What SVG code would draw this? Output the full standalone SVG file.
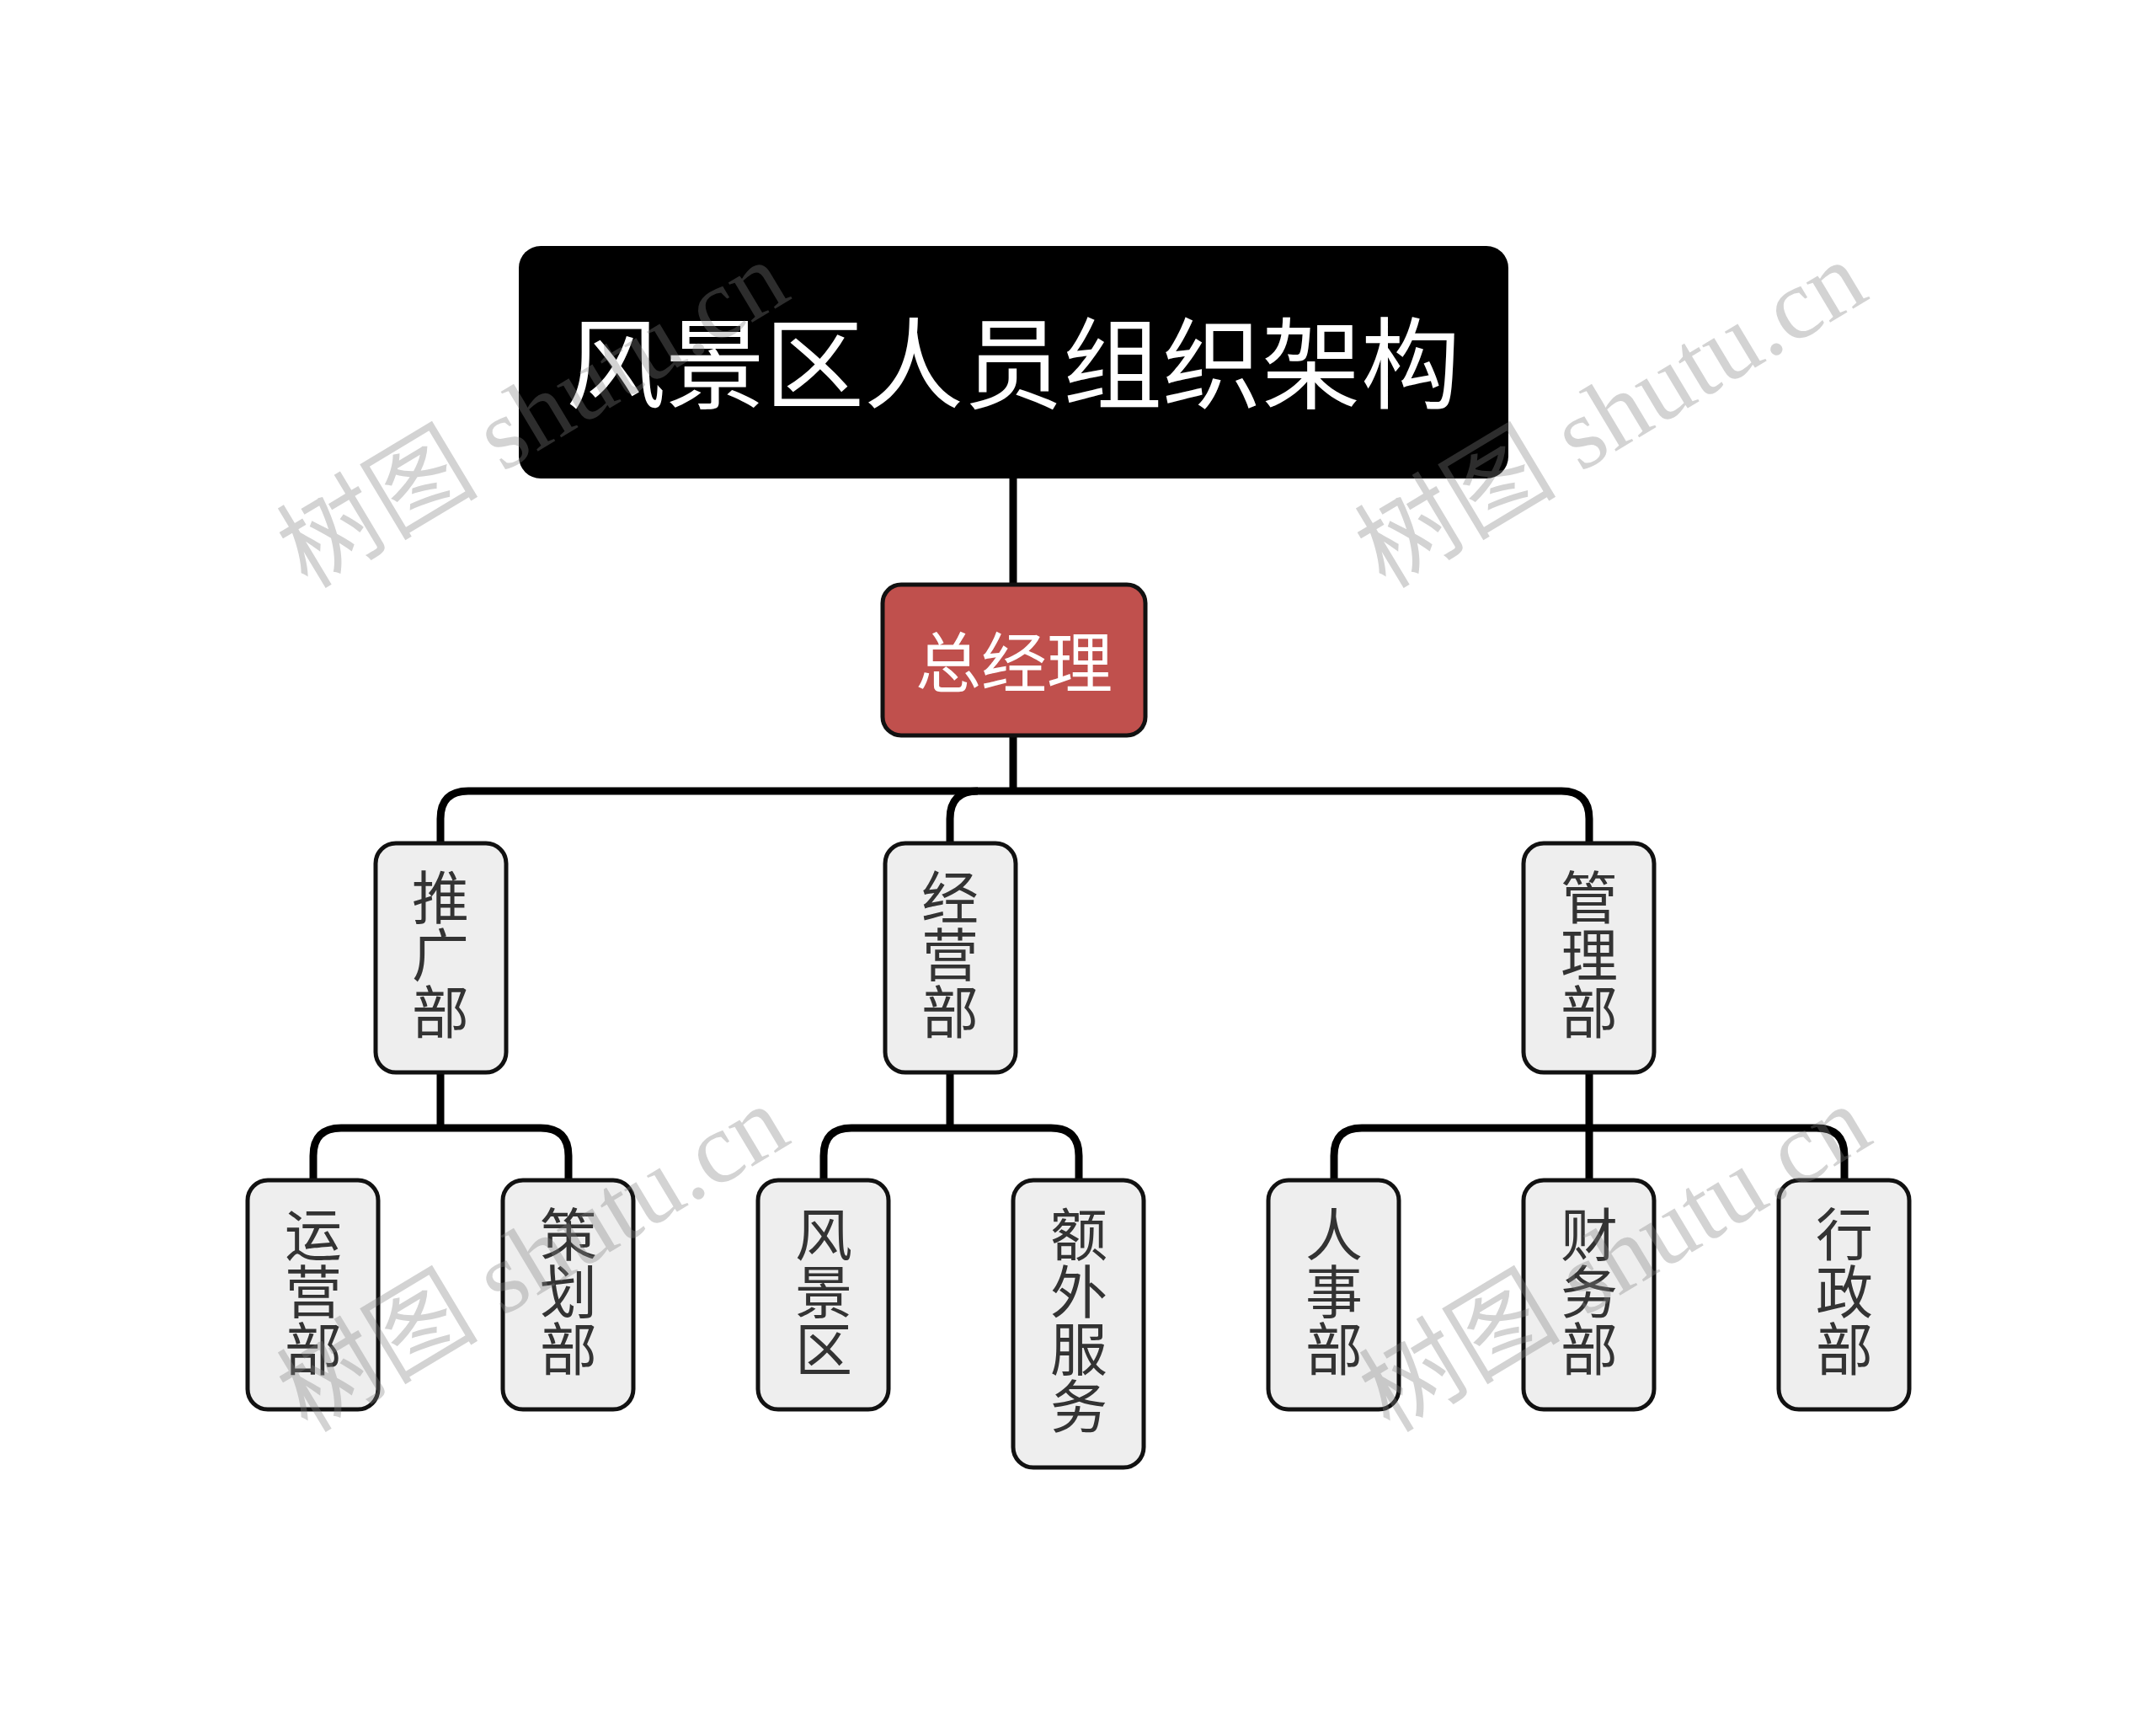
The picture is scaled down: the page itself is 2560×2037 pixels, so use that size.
<svg xmlns="http://www.w3.org/2000/svg" width="2560" height="2037" viewBox="0 0 2560 2037">
<style>
.cn{fill:none;stroke:#000;stroke-width:9;stroke-linejoin:round}
.box{fill:#EEEEEE;stroke:#111;stroke-width:5}
.lbl{font-family:"Noto Sans CJK SC","Liberation Sans",sans-serif;font-size:68px;fill:#333;writing-mode:vertical-rl;text-orientation:upright}
.wm{font-family:"Liberation Serif","Noto Sans CJK SC",serif;font-size:120px;fill:#808080;fill-opacity:0.35}
</style>
<rect width="2560" height="2037" fill="#fff"/>
<g id="connectors">
<path class="cn" d="M1203 568V694"/>
<path class="cn" d="M1203 873V939"/>
<path class="cn" d="M523 1001V972Q523 939 556 939H1854Q1887 939 1887 972V1001"/>
<path class="cn" d="M1128 1001V972Q1128 939 1161 939"/>
<path class="cn" d="M523 1273V1339"/>
<path class="cn" d="M372 1401V1372Q372 1339 405 1339H642Q675 1339 675 1372V1401"/>
<path class="cn" d="M1128 1273V1339"/>
<path class="cn" d="M978 1401V1372Q978 1339 1011 1339H1248Q1281 1339 1281 1372V1401"/>
<path class="cn" d="M1887 1273V1401"/>
<path class="cn" d="M1584 1401V1372Q1584 1339 1617 1339H2157Q2190 1339 2190 1372V1401"/>
</g>
<g id="root">
<rect x="616" y="292" width="1175" height="276" rx="26" fill="#000"/>
<text x="1203" y="424" font-family="'Noto Sans CJK SC','Liberation Sans',sans-serif" font-size="118" fill="#fff" text-anchor="middle" dominant-baseline="central">风景区人员组织架构</text>
</g>
<g id="gm">
<rect x="1048" y="694" width="312" height="179" rx="22" fill="#C0504D" stroke="#111" stroke-width="5"/>
<text x="1204" y="782" font-family="'Noto Sans CJK SC','Liberation Sans',sans-serif" font-size="78" fill="#fff" text-anchor="middle" dominant-baseline="central">总经理</text>
</g>
<g id="tuiguang">
<rect class="box" x="446" y="1001" width="155" height="272" rx="24"/>
<text class="lbl" x="523" y="1031">推广部</text>
</g>
<g id="jingying">
<rect class="box" x="1051" y="1001" width="155" height="272" rx="24"/>
<text class="lbl" x="1128" y="1031">经营部</text>
</g>
<g id="guanli">
<rect class="box" x="1809" y="1001" width="155" height="272" rx="24"/>
<text class="lbl" x="1887" y="1031">管理部</text>
</g>
<g id="yunying">
<rect class="box" x="294" y="1401" width="155" height="272" rx="24"/>
<text class="lbl" x="372" y="1431">运营部</text>
</g>
<g id="cehua">
<rect class="box" x="597" y="1401" width="155" height="272" rx="24"/>
<text class="lbl" x="675" y="1431">策划部</text>
</g>
<g id="fengjingqu">
<rect class="box" x="900" y="1401" width="155" height="272" rx="24"/>
<text class="lbl" x="978" y="1431">风景区</text>
</g>
<g id="ewai">
<rect class="box" x="1203" y="1401" width="155" height="341" rx="24"/>
<text class="lbl" x="1281" y="1431">额外服务</text>
</g>
<g id="renshi">
<rect class="box" x="1506" y="1401" width="155" height="272" rx="24"/>
<text class="lbl" x="1584" y="1431">人事部</text>
</g>
<g id="caiwu">
<rect class="box" x="1809" y="1401" width="155" height="272" rx="24"/>
<text class="lbl" x="1887" y="1431">财务部</text>
</g>
<g id="xingzheng">
<rect class="box" x="2112" y="1401" width="155" height="272" rx="24"/>
<text class="lbl" x="2190" y="1431">行政部</text>
</g>
<g id="watermarks">
<text class="wm" transform="translate(365 700) rotate(-31)">树图 shutu.cn</text>
<text class="wm" transform="translate(1645 700) rotate(-31)">树图 shutu.cn</text>
<text class="wm" transform="translate(365 1702) rotate(-31)">树图 shutu.cn</text>
<text class="wm" transform="translate(1650 1702) rotate(-31)">树图 shutu.cn</text>
</g>
</svg>
